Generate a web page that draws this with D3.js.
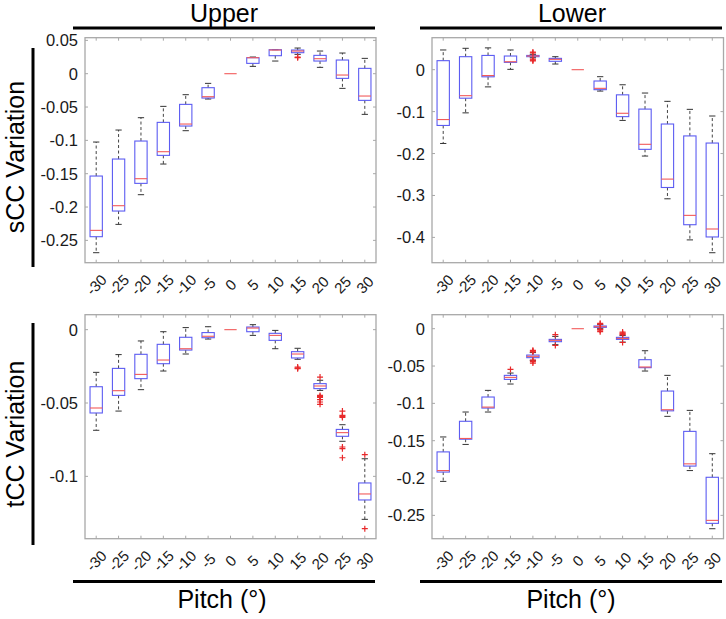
<!DOCTYPE html>
<html>
<head>
<meta charset="utf-8">
<script src="https://cdn.jsdelivr.net/npm/d3@7"></script>
<style>
  body { margin: 0; background: #fff; }
  svg { display: block; font-family: "Liberation Sans", Arial, sans-serif; }
</style>
</head>
<body>
<svg id="chart" width="726" height="619"></svg>
<script>
// pitch angles (categories on every x axis)
var pitches = [-30, -25, -20, -15, -10, -5, 0, 5, 10, 15, 20, 25, 30];

// box stats per pitch: [lower whisker, q1, median, q3, upper whisker]
var sccUpper = [
  [-0.2685, -0.2445, -0.235, -0.1535, -0.1025],
  [-0.226, -0.206, -0.198, -0.128, -0.0845],
  [-0.1815, -0.1645, -0.1575, -0.101, -0.066],
  [-0.1355, -0.1225, -0.117, -0.073, -0.049],
  [-0.0855, -0.0785, -0.0755, -0.046, -0.0315],
  [-0.038, -0.0365, -0.0345, -0.021, -0.0145],
  [0, 0, 0, 0, 0],
  [0.011, 0.0155, 0.024, 0.024, 0.025],
  [0.019, 0.027, 0.0355, 0.036, 0.036],
  [0.029, 0.0315, 0.034, 0.0355, 0.0385],
  [0.0095, 0.019, 0.0225, 0.0275, 0.034],
  [-0.022, -0.007, -0.002, 0.0205, 0.031],
  [-0.061, -0.04, -0.0335, 0.008, 0.023]
];
var sccUpperOut = [[15, 0.024], [15, 0.025]];

var sccLower = [
  [-0.176, -0.133, -0.119, 0.0215, 0.047],
  [-0.103, -0.068, -0.062, 0.031, 0.051],
  [-0.041, -0.017, -0.014, 0.034, 0.052],
  [0.0008, 0.0175, 0.019, 0.0326, 0.047],
  [0.0286, 0.031, 0.0326, 0.034, 0.0366],
  [0.0135, 0.02, 0.0247, 0.027, 0.031],
  [0, 0, 0, 0, 0],
  [-0.051, -0.0477, -0.0445, -0.027, -0.0167],
  [-0.121, -0.112, -0.104, -0.06, -0.036],
  [-0.206, -0.19, -0.178, -0.094, -0.0557],
  [-0.308, -0.281, -0.261, -0.1296, -0.0755],
  [-0.406, -0.3698, -0.3475, -0.158, -0.0946],
  [-0.4366, -0.399, -0.38, -0.175, -0.1105]
];
var sccLowerOut = [[-10, 0.042], [-10, 0.04], [-10, 0.025], [-10, 0.023], [-10, 0.021]];

var tccUpper = [
  [-0.0686, -0.0568, -0.0534, -0.0389, -0.0291],
  [-0.0555, -0.0448, -0.0416, -0.0264, -0.017],
  [-0.0409, -0.0334, -0.0305, -0.0168, -0.0077],
  [-0.0282, -0.0232, -0.0207, -0.010, -0.0014],
  [-0.0166, -0.0139, -0.013, -0.0052, 0.0014],
  [-0.0064, -0.0055, -0.0045, -0.002, 0.002],
  [0, 0, 0, 0, 0],
  [-0.0039, -0.0014, 0.0011, 0.0018, 0.0034],
  [-0.013, -0.0073, -0.0039, -0.0025, -0.0005],
  [-0.0202, -0.0193, -0.0166, -0.015, -0.0127],
  [-0.0414, -0.0402, -0.0384, -0.0368, -0.0345],
  [-0.0761, -0.0727, -0.0702, -0.068, -0.0648],
  [-0.1293, -0.1161, -0.112, -0.1045, -0.088]
];
var tccUpperOut = [
  [15, -0.0255], [15, -0.0262], [15, -0.0266],
  [20, -0.0323], [20, -0.0448], [20, -0.0455], [20, -0.0462], [20, -0.0477], [20, -0.0493], [20, -0.0509],
  [25, -0.0555], [25, -0.0584], [25, -0.0591], [25, -0.0598], [25, -0.080], [25, -0.0811], [25, -0.0873],
  [30, -0.0852], [30, -0.1357]
];

var tccLower = [
  [-0.2045, -0.192, -0.190, -0.165, -0.145],
  [-0.155, -0.148, -0.147, -0.124, -0.1116],
  [-0.1116, -0.1063, -0.105, -0.0915, -0.0826],
  [-0.0741, -0.0679, -0.0652, -0.0625, -0.0594],
  [-0.0424, -0.0388, -0.037, -0.0353, -0.032],
  [-0.0214, -0.0174, -0.0156, -0.0143, -0.0103],
  [0, 0, 0, 0, 0],
  [0, 0.0018, 0.0027, 0.0036, 0.0054],
  [-0.0179, -0.0143, -0.013, -0.0116, -0.009],
  [-0.0567, -0.0522, -0.0513, -0.0415, -0.0295],
  [-0.1174, -0.110, -0.1085, -0.0835, -0.0625],
  [-0.190, -0.184, -0.181, -0.1375, -0.1094],
  [-0.2679, -0.2607, -0.2567, -0.199, -0.1674]
];
var tccLowerOut = [
  [-15, -0.0545],
  [-10, -0.029], [-10, -0.030], [-10, -0.031], [-10, -0.042], [-10, -0.044], [-10, -0.046],
  [-5, -0.008], [-5, -0.0225],
  [5, 0.0062], [5, 0.0072], [5, -0.001], [5, -0.002], [5, -0.004],
  [10, -0.0045], [10, -0.006], [10, -0.007], [10, -0.008], [10, -0.0185]
];

var sccUpperTicks = [0.05, 0, -0.05, -0.1, -0.15, -0.2, -0.25];
var sccLowerTicks = [0, -0.1, -0.2, -0.3, -0.4];
var tccUpperTicks = [0, -0.05, -0.1];
var tccLowerTicks = [0, -0.05, -0.1, -0.15, -0.2, -0.25];

var svg = d3.select("#chart");

function drawPanel(p) {
  var x = d3.scaleBand().domain(pitches).range([p.left, p.right]).padding(0);
  var y = d3.scaleLinear().domain(p.ydom).range([p.bottom, p.top]);
  var bw = x.bandwidth();
  var g = svg.append("g");
  var cx = function(v) { return x(v) + bw / 2; };

  // frame with inward ticks on all four sides
  g.append("rect")
    .attr("x", p.left).attr("y", p.top)
    .attr("width", p.right - p.left).attr("height", p.bottom - p.top)
    .attr("fill", "none").attr("stroke", "#a8a8a8").attr("stroke-width", 1.3);

  var tk = 3;
  pitches.forEach(function(v) {
    g.append("line").attr("x1", cx(v)).attr("x2", cx(v))
      .attr("y1", p.bottom).attr("y2", p.bottom - tk).attr("stroke", "#a8a8a8");
    g.append("line").attr("x1", cx(v)).attr("x2", cx(v))
      .attr("y1", p.top).attr("y2", p.top + tk).attr("stroke", "#a8a8a8");
    g.append("text")
      .attr("transform", "translate(" + cx(v) + "," + (p.bottom + 22) + ") rotate(-45)")
      .attr("text-anchor", "middle").attr("dominant-baseline", "central")
      .attr("font-size", 15).attr("fill", "#1a1a1a")
      .text(v);
  });
  p.ticks.forEach(function(v) {
    g.append("line").attr("x1", p.left).attr("x2", p.left + tk)
      .attr("y1", y(v)).attr("y2", y(v)).attr("stroke", "#a8a8a8");
    g.append("line").attr("x1", p.right).attr("x2", p.right - tk)
      .attr("y1", y(v)).attr("y2", y(v)).attr("stroke", "#a8a8a8");
    g.append("text")
      .attr("x", p.left - 7).attr("y", y(v))
      .attr("text-anchor", "end").attr("dominant-baseline", "central")
      .attr("font-size", 16.5).attr("fill", "#1a1a1a")
      .text(v);
  });

  var boxW = bw * 0.55, capW = bw * 0.28;
  p.stats.forEach(function(s, i) {
    var c = cx(pitches[i]);
    var flat = s[4] === s[0];
    if (!flat) {
      // whiskers
      g.append("line").attr("x1", c).attr("x2", c).attr("y1", y(s[3])).attr("y2", y(s[4]))
        .attr("stroke", "#444").attr("stroke-dasharray", "3,2.5");
      g.append("line").attr("x1", c).attr("x2", c).attr("y1", y(s[1])).attr("y2", y(s[0]))
        .attr("stroke", "#444").attr("stroke-dasharray", "3,2.5");
      g.append("line").attr("x1", c - capW / 2).attr("x2", c + capW / 2)
        .attr("y1", y(s[4])).attr("y2", y(s[4])).attr("stroke", "#333");
      g.append("line").attr("x1", c - capW / 2).attr("x2", c + capW / 2)
        .attr("y1", y(s[0])).attr("y2", y(s[0])).attr("stroke", "#333");
      g.append("rect")
        .attr("x", c - boxW / 2).attr("y", y(s[3]))
        .attr("width", boxW).attr("height", Math.max(y(s[1]) - y(s[3]), 0.5))
        .attr("fill", "none").attr("stroke", "#5c5cf2").attr("stroke-width", 1.1);
    }
    g.append("line").attr("x1", c - boxW / 2).attr("x2", c + boxW / 2)
      .attr("y1", y(s[2])).attr("y2", y(s[2]))
      .attr("stroke", "#f25a5a").attr("stroke-width", 1.1);
  });

  p.out.forEach(function(o) {
    var c = cx(o[0]), yy = y(o[1]);
    g.append("path")
      .attr("d", "M" + (c - 3) + "," + yy + "H" + (c + 3) + "M" + c + "," + (yy - 3) + "V" + (yy + 3))
      .attr("stroke", "#e8282a").attr("stroke-width", 1.2).attr("fill", "none");
  });
}

var L = { l: 85, r: 376 }, R = { l: 432, r: 723.5 };
var T = { t: 37.7, b: 262.7 }, B = { t: 314.7, b: 538.7 };

drawPanel({ left: L.l, right: L.r, top: T.t, bottom: T.b, ydom: [-0.2835, 0.054],
  ticks: sccUpperTicks, stats: sccUpper, out: sccUpperOut });
drawPanel({ left: R.l, right: R.r, top: T.t, bottom: T.b, ydom: [-0.4604, 0.0763],
  ticks: sccLowerTicks, stats: sccLower, out: sccLowerOut });
drawPanel({ left: L.l, right: L.r, top: B.t, bottom: B.b, ydom: [-0.1425, 0.0102],
  ticks: tccUpperTicks, stats: tccUpper, out: tccUpperOut });
drawPanel({ left: R.l, right: R.r, top: B.t, bottom: B.b, ydom: [-0.28125, 0.01875],
  ticks: tccLowerTicks, stats: tccLower, out: tccLowerOut });

// column titles, row labels and the black bars that go with them
function bar(x1, y1, x2, y2) {
  svg.append("line").attr("x1", x1).attr("y1", y1).attr("x2", x2).attr("y2", y2)
    .attr("stroke", "#000").attr("stroke-width", 3);
}
function label(txt, x, y, rot) {
  svg.append("text")
    .attr("transform", "translate(" + x + "," + y + ")" + (rot ? " rotate(" + rot + ")" : ""))
    .attr("text-anchor", "middle").attr("font-size", 25).attr("fill", "#000")
    .text(txt);
}
label("Upper", 224, 22);
label("Lower", 572, 22);
bar(73, 28, 375, 28);
bar(420, 28, 722, 28);

label("sCC Variation", 24, 157, -90);
label("tCC Variation", 24, 434, -90);
bar(33, 48, 33, 267);
bar(33, 323, 33, 545);

bar(73, 581.5, 375, 581.5);
bar(420, 581.5, 722, 581.5);
label("Pitch (°)", 222, 608);
label("Pitch (°)", 571, 608);
</script>
</body>
</html>
